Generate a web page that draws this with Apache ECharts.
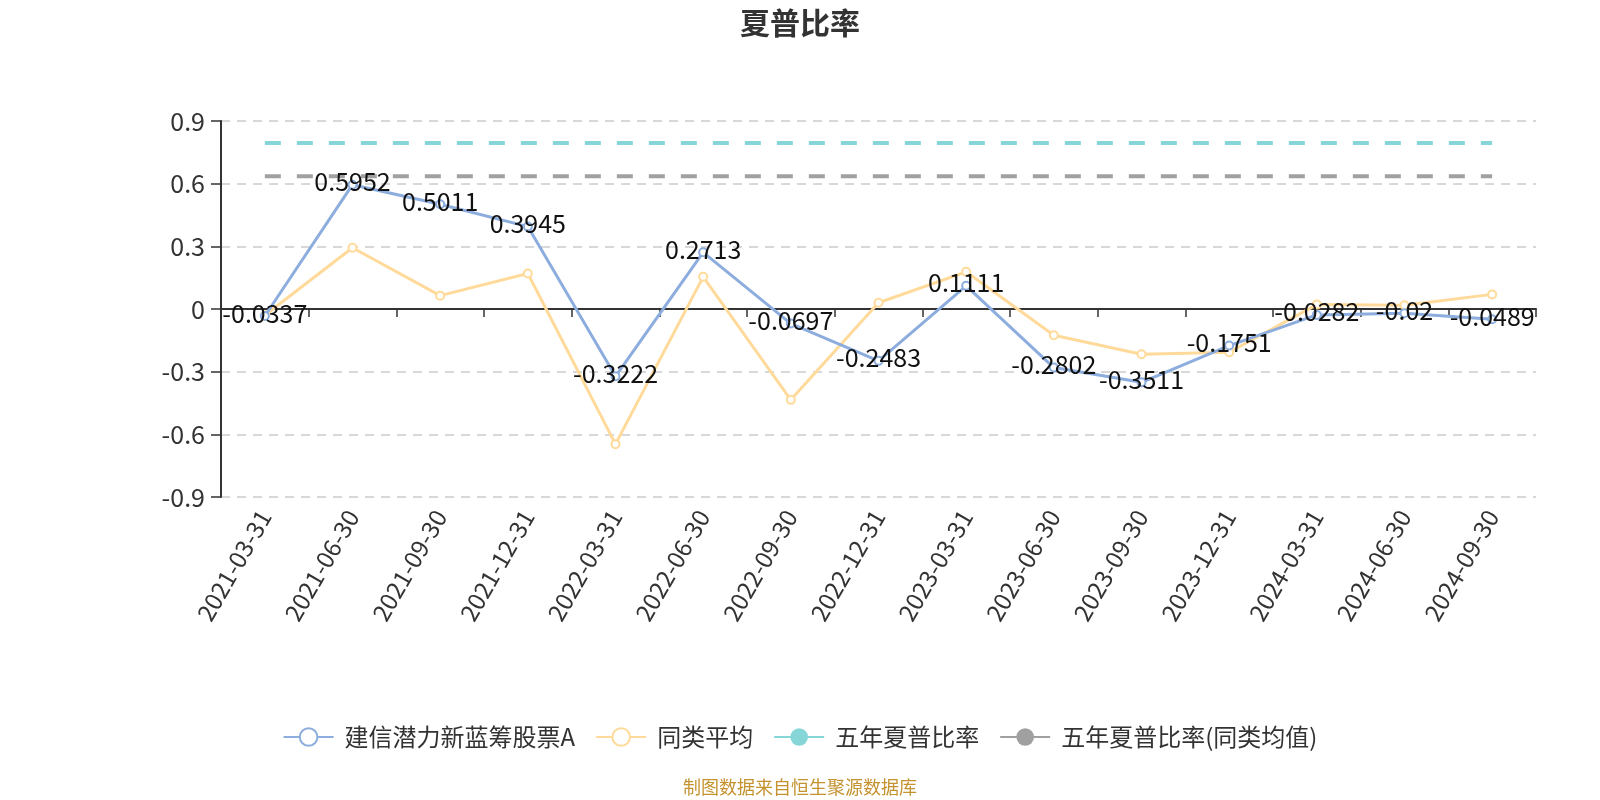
<!DOCTYPE html>
<html>
<head>
<meta charset="utf-8">
<script src="https://cdn.jsdelivr.net/npm/echarts@6/dist/echarts.min.js"></script>
<style>
html,body{margin:0;padding:0;background:#fff;}
#c{width:1600px;height:800px;}
</style>
</head>
<body>
<div id="c"></div>
<script>
const categories = ['2021-03-31','2021-06-30','2021-09-30','2021-12-31','2022-03-31','2022-06-30','2022-09-30','2022-12-31','2023-03-31','2023-06-30','2023-09-30','2023-12-31','2024-03-31','2024-06-30','2024-09-30'];
const fundValues = [-0.0337, 0.5952, 0.5011, 0.3945, -0.3222, 0.2713, -0.0697, -0.2483, 0.1111, -0.2802, -0.3511, -0.1751, -0.0282, -0.02, -0.0489];
const peerValues = [-0.03, 0.293, 0.064, 0.170, -0.647, 0.154, -0.435, 0.030, 0.178, -0.126, -0.217, -0.207, 0.021, 0.018, 0.070];
const fiveYearValue = 0.795;
const fiveYearPeerValue = 0.635;
const seriesNames = ['建信潜力新蓝筹股票A', '同类平均', '五年夏普比率', '五年夏普比率(同类均值)'];
const yTicks = { min: -0.9, max: 0.9, interval: 0.3 };

const FONT = "'Microsoft YaHei','Noto Sans CJK SC','Noto Sans',sans-serif";
const chart = echarts.init(document.getElementById('c'));
const fiveYearLine = categories.map(() => fiveYearValue);
const fiveYearPeerLine = categories.map(() => fiveYearPeerValue);

chart.setOption({
  animation: false,
  textStyle: { fontFamily: FONT },
  title: {
    text: '夏普比率', left: 'center', top: 3,
    textStyle: { fontSize: 30, fontWeight: 'bold', color: '#333', fontFamily: FONT }
  },
  grid: { left: 221, right: 64, top: 121, bottom: 303 },
  legend: {
    top: 720, left: 'center',
    itemWidth: 50, itemHeight: 22, itemGap: 20,
    textStyle: { fontSize: 24, color: '#333', fontFamily: FONT, padding: [0, 0, 0, 6] },
    lineStyle: { type: 'solid', width: 2 },
    data: seriesNames
  },
  graphic: [{
    type: 'text', left: 'center', top: 778,
    style: { text: '制图数据来自恒生聚源数据库', fill: '#C4922F', fontSize: 18, fontFamily: FONT }
  }],
  xAxis: [{
    type: 'category', data: categories, boundaryGap: true,
    axisLine: { onZero: true, lineStyle: { color: '#333', width: 2 } },
    axisTick: { show: true, length: 8, lineStyle: { color: '#333', width: 1.5 } },
    axisLabel: { show: false }
  }, {
    type: 'category', data: categories, boundaryGap: true, position: 'bottom',
    axisLine: { show: false, onZero: false }, axisTick: { show: false },
    axisLabel: { rotate: 60, fontSize: 24, color: '#333', margin: 15, interval: 0, fontFamily: FONT }
  }],
  yAxis: {
    type: 'value', min: yTicks.min, max: yTicks.max, interval: yTicks.interval,
    axisLine: { show: true, lineStyle: { color: '#333', width: 2 } },
    axisTick: { show: true, length: 10, lineStyle: { color: '#333', width: 1.5 } },
    axisLabel: { fontSize: 25, color: '#333', margin: 16, fontFamily: FONT },
    splitLine: { show: true, lineStyle: { color: '#ccc', type: [9, 7], width: 1.5 } }
  },
  series: [{
    name: seriesNames[0], type: 'line', data: fundValues,
    symbol: 'emptyCircle', symbolSize: 8,
    lineStyle: { color: '#8CADDD', width: 3 },
    itemStyle: { color: '#8CADDD', borderWidth: 1.5 },
    label: { show: true, position: 'inside', offset: [0, -3], fontSize: 25, color: '#111', fontFamily: FONT },
    z: 3
  }, {
    name: seriesNames[1], type: 'line', data: peerValues,
    symbol: 'emptyCircle', symbolSize: 8,
    lineStyle: { color: '#FFDA9A', width: 3 },
    itemStyle: { color: '#FFDA9A', borderWidth: 1.5 },
    z: 2
  }, {
    name: seriesNames[2], type: 'line', data: fiveYearLine,
    symbol: 'circle', showSymbol: false,
    lineStyle: { color: '#86D6D8', width: 4, type: [16, 16] },
    itemStyle: { color: '#86D6D8' }
  }, {
    name: seriesNames[3], type: 'line', data: fiveYearPeerLine,
    symbol: 'circle', showSymbol: false,
    lineStyle: { color: '#A0A0A0', width: 4, type: [16, 16] },
    itemStyle: { color: '#A0A0A0' }
  }]
});
</script>
</body>
</html>
